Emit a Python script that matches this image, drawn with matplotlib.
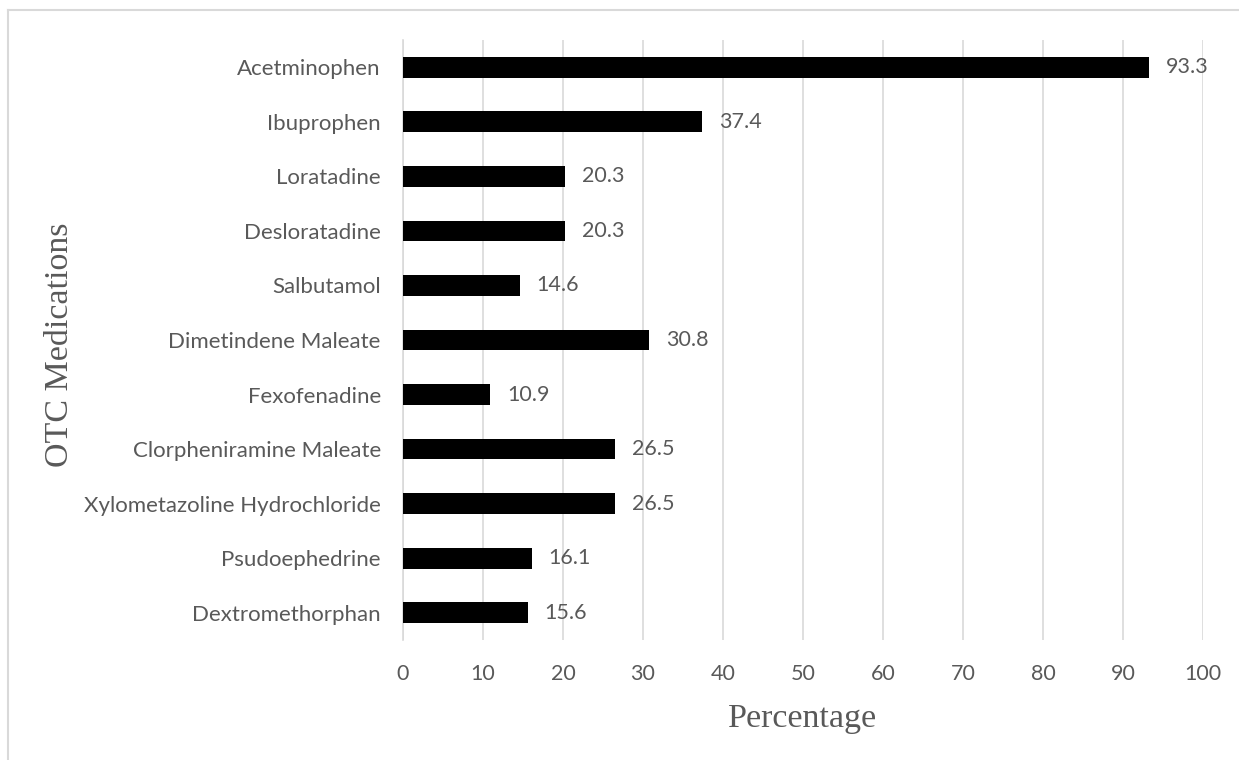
import matplotlib
matplotlib.use("Agg")
import matplotlib.pyplot as plt
from matplotlib.lines import Line2D

medications = [
    "Acetminophen",
    "Ibuprophen",
    "Loratadine",
    "Desloratadine",
    "Salbutamol",
    "Dimetindene Maleate",
    "Fexofenadine",
    "Clorpheniramine Maleate",
    "Xylometazoline Hydrochloride",
    "Psudoephedrine",
    "Dextromethorphan",
]
percentages = [93.3, 37.4, 20.3, 20.3, 14.6, 30.8, 10.9, 26.5, 26.5, 16.1, 15.6]
x_ticks = list(range(0, 101, 10))

W, H = 1239, 760
fig = plt.figure(figsize=(W / 100, H / 100), dpi=100)
ax = fig.add_axes([403 / W, 1 - 640 / H, 800 / W, 600 / H])

tick_font = ["Lato", "DejaVu Sans"]
title_font = ["Liberation Serif", "DejaVu Serif"]
grey = "#595959"

n = len(medications)
positions = list(range(n))
ax.barh(positions, percentages, height=0.38, color="black", zorder=3)
ax.set_ylim(n - 0.5, -0.5)
ax.set_xlim(0, 100)
ax.set_xticks(x_ticks)
ax.set_xticklabels([str(t) for t in x_ticks], fontsize=15.5, color=grey, family=tick_font)
ax.set_yticks(positions)
ax.set_yticklabels(medications, fontsize=16, color=grey, family=tick_font)
ax.tick_params(axis="both", length=0)
ax.tick_params(axis="x", pad=17.5)
ax.tick_params(axis="y", pad=16)

ax.grid(axis="x", color="#d9d9d9", linewidth=1.2, zorder=0)
for side in ["top", "right", "bottom"]:
    ax.spines[side].set_visible(False)
ax.spines["left"].set_color("#d9d9d9")
ax.spines["left"].set_linewidth(1.2)

for y, v in zip(positions, percentages):
    ax.annotate(f"{v}", xy=(v, y), xytext=(12, 0), textcoords="offset points",
                ha="left", va="center", fontsize=15.5, color=grey, family=tick_font)

# axis titles
fig.text(803 / W, 1 - 727 / H, "Percentage", ha="center", va="baseline",
         fontsize=24.5, color=grey, family=title_font)
fig.text(60 / W, 1 - 345 / H, "OTC Medications", rotation=90, ha="center", va="center",
         fontsize=24.5, color=grey, family=title_font)

# outer frame: left and top edges only
fig.add_artist(Line2D([8 / W, 8 / W], [0, 1 - 10 / H], transform=fig.transFigure,
                      color="#d9d9d9", linewidth=1.5))
fig.add_artist(Line2D([8 / W, 1], [1 - 10 / H, 1 - 10 / H], transform=fig.transFigure,
                      color="#d9d9d9", linewidth=1.5))

fig.savefig("out.png", dpi=100, facecolor="white")
